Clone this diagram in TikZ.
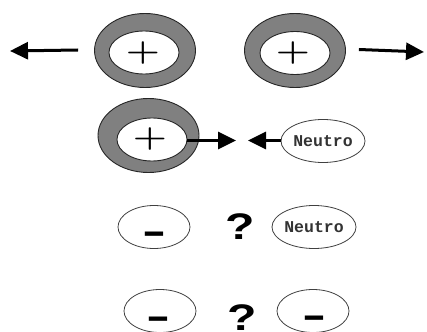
\documentclass[tikz,border=0pt]{standalone}
\usepackage{fontspec}
\usetikzlibrary{shapes.geometric,arrows.meta}
\newfontfamily\monofam{Liberation Mono}
\newfontfamily\sansfam{Liberation Sans}
\begin{document}
\begin{tikzpicture}[x=1pt,y=-1pt,
  ring/.style={ellipse, draw=black!85, line width=0.9pt, fill=gray,
    minimum width=101pt, minimum height=74pt, inner sep=0pt},
  hole/.style={ellipse, draw=black!85, line width=0.9pt, fill=white,
    minimum width=70pt, minimum height=43pt, inner sep=0pt},
  charge/.style={ellipse, draw=black!75, line width=0.8pt, fill=white,
    minimum width=72pt, minimum height=43pt, inner sep=0pt,
    font=\monofam\bfseries\fontsize{16.5}{16.5}\selectfont, text=black!80},
  plussign/.style={inner sep=0pt, font=\bfseries\fontsize{30}{30}\selectfont},
  minussign/.style={inner sep=0pt, anchor=base,
    font=\sansfam\bfseries\fontsize{36}{36}\selectfont},
  query/.style={inner sep=0pt, anchor=south,
    font=\sansfam\bfseries\fontsize{37}{37}\selectfont},
  arr/.style={line width=3pt, -{Triangle[length=18pt,width=17pt]}}]
\useasboundingbox (0,0) rectangle (427,331);

% two repelling positive charges
\node[ring] (outA) at (145,50.5) {};
\node[hole] (inA) at (144,52.5) {};
\node[plussign] (plA) at (143,53) {\scalebox{1.3}[1]{+}};
\coordinate (tipA) at (10,51);
\draw[arr] ([xshift=-16pt,yshift=0.5pt]outA.west) -- (tipA);

\node[ring] (outB) at (295,50.5) {};
\node[hole] (inB) at (295,53) {};
\node[plussign] (plB) at (293,53.5) {\scalebox{1.3}[1]{+}};
\coordinate (tipB) at (424,52);
\draw[arr] ([xshift=13pt,yshift=1pt]outB.east) -- (tipB);

% positive charge attracting a neutral body
\node[ring] (outC) at (148.5,135.5) {};
\node[hole] (inC) at (152,139.5) {};
\node[plussign] (plC) at (150,139) {\scalebox{1.3}[1]{+}};
\node[charge] (nC) at (323,141) {Neutro};
\coordinate (tipC) at (236,140.5);
\coordinate (tipD) at (248,140.5);
\draw[arr] (inC.east |- tipC) -- (tipC);
\draw[arr] (nC.west |- tipD) -- (tipD);

% negative charge and a neutral body
\node[charge] (mE) at (154,227) {};
\node[minussign] (sE) at (154.5,243.5) {\scalebox{2}[1]{-}};
\node[query] (qE) at (240,240) {\scalebox{1.3}[1]{?}};
\node[charge] (nE) at (314,227) {Neutro};

% two negative charges
\node[charge] (mF) at (160,311) {};
\node[minussign] (sF) at (158.5,328) {\scalebox{2}[1]{-}};
\node[query] (qF) at (242.5,331) {\scalebox{1.3}[1]{?}};
\node[charge] (mG) at (313,311) {};
\node[minussign] (sG) at (314,327) {\scalebox{2}[1]{-}};
\end{tikzpicture}
\end{document}
